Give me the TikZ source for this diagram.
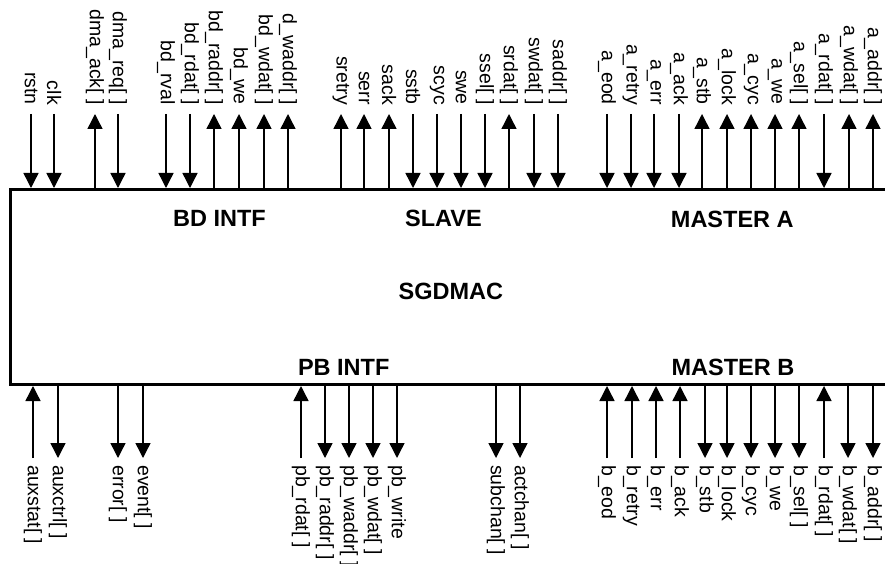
\documentclass[tikz,border=0pt]{standalone}
\usepackage{fontspec}
\setmainfont{Liberation Sans}
\usetikzlibrary{arrows.meta}
\tikzset{
  sig/.style={line width=1.4pt},
  sigin/.style={sig,-{Triangle[width=15pt,length=15pt]}},
  sigout/.style={sig,{Triangle[width=15pt,length=15pt]}-},
  pinlab/.style={inner sep=0pt,rotate=-90,font=\fontsize{19.5}{22}\selectfont},
  blocklab/.style={inner sep=0pt,font=\fontsize{23.5}{28}\selectfont\bfseries},
  corebox/.style={draw,line width=3pt,fill=white,inner sep=0pt,minimum width=890pt,minimum height=195pt}
}
\begin{document}
\begin{tikzpicture}[x=1pt,y=-1pt]
\useasboundingbox[fill=white] (0,0) rectangle (885,564);
\node[corebox] (core) at (455,287) {};
\node[blocklab] (bd) at (219.5,218.3) {BD INTF};
\node[blocklab] (sl) at (443.4,218.3) {SLAVE};
\node[blocklab] (ma) at (732.3,219) {MASTER A};
\node[blocklab] (sg) at (450.8,291.7) {SGDMAC};
\node[blocklab] (pb) at (343.7,367) {PB INTF};
\node[blocklab] (mb) at (733,367) {MASTER B};
% top pins
\foreach \x/\t/\d [count=\i] in {
  31/{rstn}/sigin, 54/{clk}/sigin, 95/{dma\_ack[ ]}/sigout, 118/{dma\_req[ ]}/sigin,
  166/{bd\_rval}/sigin, 190/{bd\_rdat[ ]}/sigin, 214/{bd\_raddr[ ]}/sigout, 239/{bd\_we}/sigout,
  264/{bd\_wdat[ ]}/sigout, 288/{d\_waddr[ ]}/sigout,
  341/{sretry}/sigout, 364/{serr}/sigout, 389/{sack}/sigout, 413/{sstb}/sigin,
  437/{scyc}/sigin, 461/{swe}/sigin, 485/{ssel[ ]}/sigin, 509/{srdat[ ]}/sigout,
  534/{swdat[ ]}/sigin, 558/{saddr[ ]}/sigin,
  607/{a\_eod}/sigin, 631/{a\_retry}/sigin, 654/{a\_err}/sigin, 679/{a\_ack}/sigin,
  702/{a\_stb}/sigout, 727/{a\_lock}/sigout, 751/{a\_cyc}/sigout, 775/{a\_we}/sigout,
  799/{a\_sel[ ]}/sigout, 824/{a\_rdat[ ]}/sigin, 849/{a\_wdat[ ]}/sigout, 873/{a\_addr[ ]}/sigout}
{
  \node[pinlab,anchor=east] (tl\i) at (\x,105) {\t};
  \coordinate (to\i) at (\x,114);
  \draw[\d] (to\i) -- (to\i |- core.north);
}
% bottom pins
\foreach \x/\t/\d [count=\i] in {
  33/{auxstat[ ]}/sigin, 58/{auxctrl[ ]}/sigout, 118/{error[ ]}/sigout, 143/{event[ ]}/sigout,
  301/{pb\_rdat[ ]}/sigin, 325/{pb\_raddr[ ]}/sigout, 349/{pb\_waddr[ ]}/sigout,
  373/{pb\_wdat[ ]}/sigout, 397/{pb\_write}/sigout,
  496/{subchan[ ]}/sigout, 520/{actchan[ ]}/sigout,
  607/{b\_eod}/sigin, 632/{b\_retry}/sigin, 656/{b\_err}/sigin, 680/{b\_ack}/sigin,
  705/{b\_stb}/sigout, 727/{b\_lock}/sigout, 751/{b\_cyc}/sigout, 775/{b\_we}/sigout,
  799/{b\_sel[ ]}/sigout, 824/{b\_rdat[ ]}/sigin, 848/{b\_wdat[ ]}/sigout, 873/{b\_addr[ ]}/sigout}
{
  \node[pinlab,anchor=west] (bl\i) at (\x,465) {\t};
  \coordinate (bo\i) at (\x,458);
  \draw[\d] (bo\i) -- (bo\i |- core.south);
}
\end{tikzpicture}
\end{document}
